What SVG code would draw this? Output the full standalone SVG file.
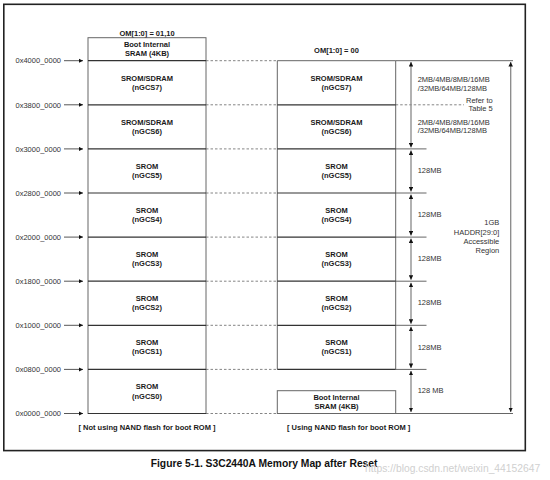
<svg xmlns="http://www.w3.org/2000/svg" width="550" height="480" viewBox="0 0 550 480">
<style>
.b{font-family:"Liberation Sans",Arial,sans-serif;font-size:7.5px;font-weight:bold;fill:#1a1a1a;text-anchor:middle}
.r{font-family:"Liberation Sans",Arial,sans-serif;font-size:7.5px;fill:#333;}
.e{text-anchor:end}
.box{fill:none;stroke:#666;stroke-width:1}
.row{stroke:#333;stroke-width:1.2}
.dash{stroke:#777;stroke-width:0.9;stroke-dasharray:2.5,2}
.ext{stroke:#666;stroke-width:1}
.va{stroke:#888;stroke-width:1.3;marker-start:url(#ah);marker-end:url(#ah)}
.la{stroke:#444;stroke-width:0.9;marker-end:url(#ah)}
</style>
<defs>
<marker id="ah" viewBox="0 0 6 6" refX="6" refY="3" markerWidth="4.5" markerHeight="4.5" markerUnits="userSpaceOnUse" orient="auto-start-reverse">
<path d="M0,0 L6,3 L0,6 z" fill="#111"/>
</marker>
</defs>
<rect width="550" height="480" fill="#fff"/>
<rect id="frame" x="3.8" y="4.3" width="521.5" height="446.3" fill="none" stroke="#222" stroke-width="1.6"/>

<g id="connectors">
<line class="la" x1="64" y1="60.7" x2="83" y2="60.7"/>
<line class="la" x1="64" y1="104.8" x2="83" y2="104.8"/>
<line class="la" x1="64" y1="148.9" x2="83" y2="148.9"/>
<line class="la" x1="64" y1="193" x2="83" y2="193"/>
<line class="la" x1="64" y1="237.1" x2="83" y2="237.1"/>
<line class="la" x1="64" y1="281.2" x2="83" y2="281.2"/>
<line class="la" x1="64" y1="325.3" x2="83" y2="325.3"/>
<line class="la" x1="64" y1="369.4" x2="83" y2="369.4"/>
<line class="la" x1="64" y1="413.5" x2="83" y2="413.5"/>
<line class="dash" x1="206" y1="60.7" x2="277.3" y2="60.7"/>
<line class="dash" x1="206" y1="104.8" x2="277.3" y2="104.8"/>
<line class="dash" x1="206" y1="148.9" x2="277.3" y2="148.9"/>
<line class="dash" x1="206" y1="193" x2="277.3" y2="193"/>
<line class="dash" x1="206" y1="237.1" x2="277.3" y2="237.1"/>
<line class="dash" x1="206" y1="281.2" x2="277.3" y2="281.2"/>
<line class="dash" x1="206" y1="325.3" x2="277.3" y2="325.3"/>
<line class="dash" x1="206" y1="369.4" x2="277.3" y2="369.4"/>
<line class="dash" x1="206" y1="413.5" x2="277.3" y2="413.5"/>
<line class="dash" x1="395.7" y1="104.8" x2="464" y2="104.8"/>
<line class="ext" x1="395.7" y1="60.7" x2="513" y2="60.7"/>
<line class="ext" x1="395.7" y1="148.9" x2="426.5" y2="148.9"/>
<line class="ext" x1="395.7" y1="193" x2="426.5" y2="193"/>
<line class="ext" x1="395.7" y1="237.1" x2="426.5" y2="237.1"/>
<line class="ext" x1="395.7" y1="281.2" x2="426.5" y2="281.2"/>
<line class="ext" x1="395.7" y1="325.3" x2="426.5" y2="325.3"/>
<line class="ext" x1="395.7" y1="369.4" x2="426.5" y2="369.4"/>
<line class="ext" x1="395.7" y1="413.5" x2="513" y2="413.5"/>
<line class="va" x1="411" y1="62" x2="411" y2="147.4"/>
<line class="va" x1="411" y1="150.4" x2="411" y2="191.5"/>
<line class="va" x1="411" y1="194.5" x2="411" y2="235.6"/>
<line class="va" x1="411" y1="238.6" x2="411" y2="279.7"/>
<line class="va" x1="411" y1="282.7" x2="411" y2="323.8"/>
<line class="va" x1="411" y1="326.8" x2="411" y2="367.9"/>
<line class="va" x1="411" y1="370.9" x2="411" y2="412"/>
<line class="va" x1="510.7" y1="62" x2="510.7" y2="412"/>
</g>

<g id="addresses">
<text class="r e" x="61" y="63.4">0x4000_0000</text>
<text class="r e" x="61" y="107.5">0x3800_0000</text>
<text class="r e" x="61" y="151.6">0x3000_0000</text>
<text class="r e" x="61" y="195.7">0x2800_0000</text>
<text class="r e" x="61" y="239.8">0x2000_0000</text>
<text class="r e" x="61" y="283.9">0x1800_0000</text>
<text class="r e" x="61" y="328">0x1000_0000</text>
<text class="r e" x="61" y="372.1">0x0800_0000</text>
<text class="r e" x="61" y="416.2">0x0000_0000</text>
</g>

<g id="left-map">
<text class="b" x="147" y="35.5">OM[1:0] = 01,10</text>
<rect class="box" x="88" y="37.7" width="118" height="375.8"/>
<line class="row" x1="88" y1="60.7" x2="206" y2="60.7"/>
<line class="row" x1="88" y1="104.8" x2="206" y2="104.8"/>
<line class="row" x1="88" y1="148.9" x2="206" y2="148.9"/>
<line class="row" x1="88" y1="193" x2="206" y2="193"/>
<line class="row" x1="88" y1="237.1" x2="206" y2="237.1"/>
<line class="row" x1="88" y1="281.2" x2="206" y2="281.2"/>
<line class="row" x1="88" y1="325.3" x2="206" y2="325.3"/>
<line class="row" x1="88" y1="369.4" x2="206" y2="369.4"/>
<line class="row" x1="88" y1="413.5" x2="206" y2="413.5"/>
<g id="L-boot"><text class="b" x="147" y="47">Boot Internal</text><text class="b" x="147" y="55.7">SRAM (4KB)</text></g>
<g id="L-gcs7"><text class="b" x="147" y="81">SROM/SDRAM</text><text class="b" x="147" y="89.5">(nGCS7)</text></g>
<g id="L-gcs6"><text class="b" x="147" y="125.1">SROM/SDRAM</text><text class="b" x="147" y="133.6">(nGCS6)</text></g>
<g id="L-gcs5"><text class="b" x="147" y="168.8">SROM</text><text class="b" x="147" y="178">(nGCS5)</text></g>
<g id="L-gcs4"><text class="b" x="147" y="212.9">SROM</text><text class="b" x="147" y="222.1">(nGCS4)</text></g>
<g id="L-gcs3"><text class="b" x="147" y="257">SROM</text><text class="b" x="147" y="266.2">(nGCS3)</text></g>
<g id="L-gcs2"><text class="b" x="147" y="301.1">SROM</text><text class="b" x="147" y="310.3">(nGCS2)</text></g>
<g id="L-gcs1"><text class="b" x="147" y="345.2">SROM</text><text class="b" x="147" y="354.4">(nGCS1)</text></g>
<g id="L-gcs0"><text class="b" x="147" y="389.3">SROM</text><text class="b" x="147" y="398.5">(nGCS0)</text></g>
<text class="b" x="147" y="430">[ Not using NAND flash for boot ROM ]</text>
</g>

<g id="right-map">
<text class="b" x="336.5" y="52.7">OM[1:0] = 00</text>
<line class="box" x1="277.3" y1="60.7" x2="277.3" y2="369.4"/>
<line class="box" x1="395.7" y1="60.7" x2="395.7" y2="369.4"/>
<line class="ext" x1="277.3" y1="60.7" x2="395.7" y2="60.7"/>
<line class="row" x1="277.3" y1="104.8" x2="395.7" y2="104.8"/>
<line class="row" x1="277.3" y1="148.9" x2="395.7" y2="148.9"/>
<line class="row" x1="277.3" y1="193" x2="395.7" y2="193"/>
<line class="row" x1="277.3" y1="237.1" x2="395.7" y2="237.1"/>
<line class="row" x1="277.3" y1="281.2" x2="395.7" y2="281.2"/>
<line class="row" x1="277.3" y1="325.3" x2="395.7" y2="325.3"/>
<line class="row" x1="277.3" y1="369.4" x2="395.7" y2="369.4"/>
<g id="R-gcs7"><text class="b" x="336.5" y="81">SROM/SDRAM</text><text class="b" x="336.5" y="89.5">(nGCS7)</text></g>
<g id="R-gcs6"><text class="b" x="336.5" y="125.1">SROM/SDRAM</text><text class="b" x="336.5" y="133.6">(nGCS6)</text></g>
<g id="R-gcs5"><text class="b" x="336.5" y="168.8">SROM</text><text class="b" x="336.5" y="178">(nGCS5)</text></g>
<g id="R-gcs4"><text class="b" x="336.5" y="212.9">SROM</text><text class="b" x="336.5" y="222.1">(nGCS4)</text></g>
<g id="R-gcs3"><text class="b" x="336.5" y="257">SROM</text><text class="b" x="336.5" y="266.2">(nGCS3)</text></g>
<g id="R-gcs2"><text class="b" x="336.5" y="301.1">SROM</text><text class="b" x="336.5" y="310.3">(nGCS2)</text></g>
<g id="R-gcs1"><text class="b" x="336.5" y="345.2">SROM</text><text class="b" x="336.5" y="354.4">(nGCS1)</text></g>
<g id="R-boot"><rect class="box" x="277.3" y="390.7" width="118.4" height="22.8"/><text class="b" x="336.5" y="400">Boot Internal</text><text class="b" x="336.5" y="408.6">SRAM (4KB)</text></g>
<line class="ext" x1="277.3" y1="413.5" x2="395.7" y2="413.5"/>
<text class="b" x="348.7" y="430">[ Using NAND flash for boot ROM ]</text>
</g>

<g id="sizes">
<text class="r" x="417.7" y="82">2MB/4MB/8MB/16MB</text>
<text class="r" x="417.7" y="91">/32MB/64MB/128MB</text>
<text class="r e" x="492.7" y="102.7">Refer to</text>
<text class="r e" x="492.7" y="111.4">Table 5</text>
<text class="r" x="417.7" y="124.7">2MB/4MB/8MB/16MB</text>
<text class="r" x="417.7" y="133.4">/32MB/64MB/128MB</text>
<text class="r" x="417.7" y="173.4">128MB</text>
<text class="r" x="417.7" y="216.9">128MB</text>
<text class="r" x="417.7" y="261.4">128MB</text>
<text class="r" x="417.7" y="305.4">128MB</text>
<text class="r" x="417.7" y="349.7">128MB</text>
<text class="r" x="417.7" y="393">128 MB</text>
<text class="r e" x="499.3" y="225.4">1GB</text>
<text class="r e" x="499.3" y="234.7">HADDR[29:0]</text>
<text class="r e" x="499.3" y="243.7">Accessible</text>
<text class="r e" x="499.3" y="252.7">Region</text>
</g>

<text x="150.7" y="467" font-family="'Liberation Sans',Arial,sans-serif" font-size="10.3" font-weight="bold" fill="#111">Figure 5-1. S3C2440A Memory Map after Reset</text>
<text x="365" y="471.5" font-family="'Liberation Sans',Arial,sans-serif" font-size="10.3" fill="#d0d0d0">https://blog.csdn.net/weixin_44152647</text>
</svg>
